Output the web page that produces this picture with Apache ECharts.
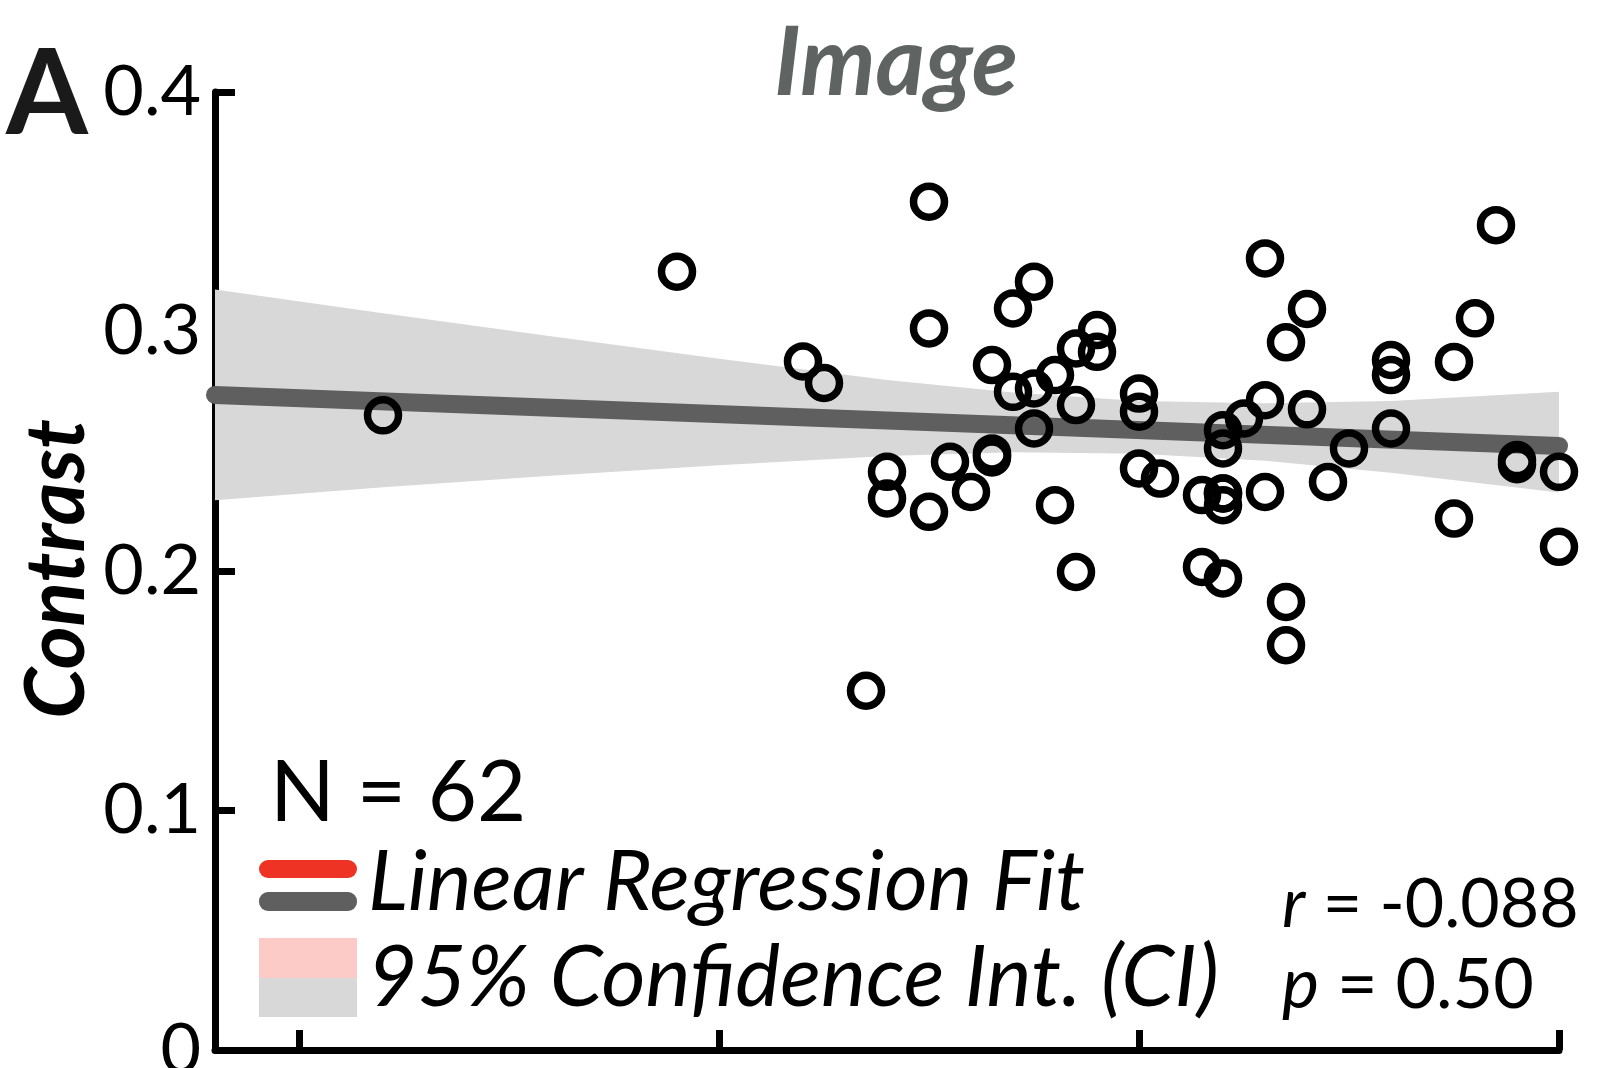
<!DOCTYPE html>
<html>
<head>
<meta charset="utf-8">
<script src="https://cdn.jsdelivr.net/npm/echarts@6/dist/echarts.min.js"></script>
<style>
  html, body { margin: 0; padding: 0; background: #ffffff; overflow: hidden; }
  #chart { width: 1601px; height: 1068px; }
</style>
</head>
<body>
<div id="chart"></div>
<script>
// ---- data ----
const pointX = [4, 18, 24, 25, 27, 28, 28, 30, 30, 30, 31, 32, 33, 33, 33, 33, 34, 34, 35, 35, 35,
  36, 36, 37, 37, 37, 38, 38, 40, 40, 40, 41, 43, 43, 44, 44, 44, 44, 44, 44, 45, 46, 46, 46,
  47, 47, 47, 48, 48, 49, 50, 52, 52, 52, 55, 55, 56, 57, 58, 58, 60, 60];
const pointY = [0.265, 0.325, 0.2875, 0.2785, 0.150, 0.2414, 0.2303, 0.3542, 0.3013, 0.2247, 0.2456,
  0.2330, 0.2860, 0.2491, 0.2474, 0.2482, 0.3096, 0.2748, 0.3208, 0.2762, 0.2595,
  0.2818, 0.2275, 0.2929, 0.2693, 0.1996, 0.3006, 0.2915, 0.2741, 0.2665, 0.2428, 0.2386,
  0.2317, 0.2017, 0.2588, 0.2512, 0.2324, 0.2324, 0.2275, 0.1969, 0.2637, 0.3305, 0.2713, 0.2330,
  0.2955, 0.1871, 0.1690, 0.3094, 0.2675, 0.2372, 0.2512, 0.2881, 0.2818, 0.2595, 0.2873, 0.2219,
  0.3055, 0.3444, 0.2463, 0.2446, 0.2414, 0.2101];

const fitX = [-4, 60];
const fitY = [0.2735, 0.2522];

const bandX = [-4, 4, 12, 20, 28, 34, 40, 46, 52, 60];
const bandLower = [0.2295, 0.2350, 0.2398, 0.2442, 0.2480, 0.2496, 0.2490, 0.2460, 0.2410, 0.2328];
const bandUpper = [0.3175, 0.3076, 0.2980, 0.2886, 0.2798, 0.2745, 0.2710, 0.2700, 0.2710, 0.2748];

const xTicks = [0, 20, 40, 60];
const yTickValues = [0, 0.1, 0.2, 0.3, 0.4];
const yTickLabels = ['0', '0.1', '0.2', '0.3', '0.4'];

const titleText = 'Image';
const panelLetter = 'A';
const yAxisName = 'Contrast';
const nText = 'N = 62';
const legendFit = 'Linear Regression Fit';
const legendCI = '95% Confidence Int. (CI)';
const rValue = '-0.088';
const pValue = '0.50';

// ---- chart ----
const FONT = 'Lato, "Open Sans", "Liberation Sans", sans-serif';
const chart = echarts.init(document.getElementById('chart'), null, { renderer: 'canvas' });

const scatterData = pointX.map((x, i) => [x, pointY[i]]);
const fitData = fitX.map((x, i) => [x, fitY[i]]);
const bandData = bandX.map((x, i) => [x, bandLower[i], bandUpper[i]]);

const option = {
  animation: false,
  backgroundColor: '#ffffff',
  grid: { left: 215, right: 42, top: 92, bottom: 18, containLabel: false, outerBoundsMode: 'none' },
  xAxis: {
    type: 'value', min: -4, max: 60,
    axisLine: { show: true, onZero: false, lineStyle: { color: '#000', width: 7 } },
    axisTick: { show: true, inside: true, length: 20, customValues: xTicks, lineStyle: { color: '#000', width: 7 } },
    axisLabel: { show: false },
    splitLine: { show: false }
  },
  yAxis: {
    type: 'value', min: 0, max: 0.4, interval: 0.1,
    axisLine: { show: true, onZero: false, lineStyle: { color: '#000', width: 7 } },
    axisTick: { show: true, inside: true, length: 20, lineStyle: { color: '#000', width: 7 } },
    axisLabel: {
      show: true, margin: 14, color: '#000', fontSize: 70, fontFamily: FONT,
      formatter: function (v) {
        const idx = yTickValues.findIndex(t => Math.abs(t - v) < 1e-9);
        return idx >= 0 ? yTickLabels[idx] : '';
      }
    },
    splitLine: { show: false }
  },
  series: [
    {
      type: 'custom',
      name: 'CI',
      z: 1,
      data: bandData,
      encode: { x: 0, y: [1, 2] },
      renderItem: function (params, api) {
        if (params.dataIndex !== 0) return null;
        const pts = [];
        for (let i = 0; i < bandX.length; i++) pts.push(api.coord([bandX[i], bandUpper[i]]));
        for (let i = bandX.length - 1; i >= 0; i--) pts.push(api.coord([bandX[i], bandLower[i]]));
        return { type: 'polygon', shape: { points: pts }, style: { fill: '#d8d8d8' } };
      }
    },
    {
      type: 'line',
      name: 'Fit',
      z: 3,
      data: fitData,
      symbol: 'none',
      lineStyle: { color: '#5f5f5f', width: 18, cap: 'round', opacity: 1 }
    },
    {
      type: 'scatter',
      name: 'Points',
      z: 4,
      data: scatterData,
      symbol: 'circle',
      symbolSize: 31,
      itemStyle: { color: 'rgba(0,0,0,0)', borderColor: '#000', borderWidth: 7.5, opacity: 1 }
    }
  ],
  graphic: [
    { type: 'text', x: 6, y: 96, z: 10,
      style: { text: panelLetter, fill: '#1a1a1a', fontSize: 118, fontFamily: FONT, fontWeight: 'bold',
        textAlign: 'left', textVerticalAlign: 'middle' } },
    { type: 'text', x: 896, y: 64, z: 10,
      style: { text: titleText, fill: '#5f6361', fontSize: 95, fontFamily: FONT, fontStyle: 'italic', fontWeight: 'bold',
        textAlign: 'center', textVerticalAlign: 'middle' } },
    { type: 'text', x: 58, y: 569, rotation: Math.PI / 2, z: 10,
      style: { text: yAxisName, fill: '#000', fontSize: 82, fontFamily: FONT, fontStyle: 'italic', fontWeight: 'bold',
        textAlign: 'center', textVerticalAlign: 'middle' } },
    { type: 'text', x: 270, y: 794, z: 10,
      style: { text: nText, fill: '#000', fontSize: 85, fontFamily: FONT,
        textAlign: 'left', textVerticalAlign: 'middle' } },
    { type: 'rect', z: 10, shape: { x: 259, y: 860, width: 98, height: 18, r: 9 }, style: { fill: '#ee3224' } },
    { type: 'rect', z: 10, shape: { x: 259, y: 892, width: 98, height: 19, r: 9 }, style: { fill: '#5f5f5f' } },
    { type: 'rect', z: 10, shape: { x: 259, y: 938, width: 98, height: 40 }, style: { fill: '#fccbc8' } },
    { type: 'rect', z: 10, shape: { x: 259, y: 978, width: 98, height: 39 }, style: { fill: '#d8d8d8' } },
    { type: 'text', x: 368, y: 883, z: 10,
      style: { text: legendFit, fill: '#000', fontSize: 84, fontFamily: FONT, fontStyle: 'italic',
        textAlign: 'left', textVerticalAlign: 'middle' } },
    { type: 'text', x: 368, y: 979, z: 10,
      style: { text: legendCI, fill: '#000', fontSize: 85, fontFamily: FONT, fontStyle: 'italic',
        textAlign: 'left', textVerticalAlign: 'middle' } },
    { type: 'text', x: 1282, y: 905, z: 10,
      style: { text: '{i|r} = ' + rValue, fill: '#000', fontSize: 68, fontFamily: FONT,
        textAlign: 'left', textVerticalAlign: 'middle',
        rich: { i: { fontStyle: 'italic', fontSize: 68, fontFamily: FONT, fill: '#000' } } } },
    { type: 'text', x: 1282, y: 985, z: 10,
      style: { text: '{i|p} = ' + pValue, fill: '#000', fontSize: 70, fontFamily: FONT,
        textAlign: 'left', textVerticalAlign: 'middle',
        rich: { i: { fontStyle: 'italic', fontSize: 70, fontFamily: FONT, fill: '#000' } } } }
  ]
};
chart.setOption(option);
</script>
</body>
</html>
